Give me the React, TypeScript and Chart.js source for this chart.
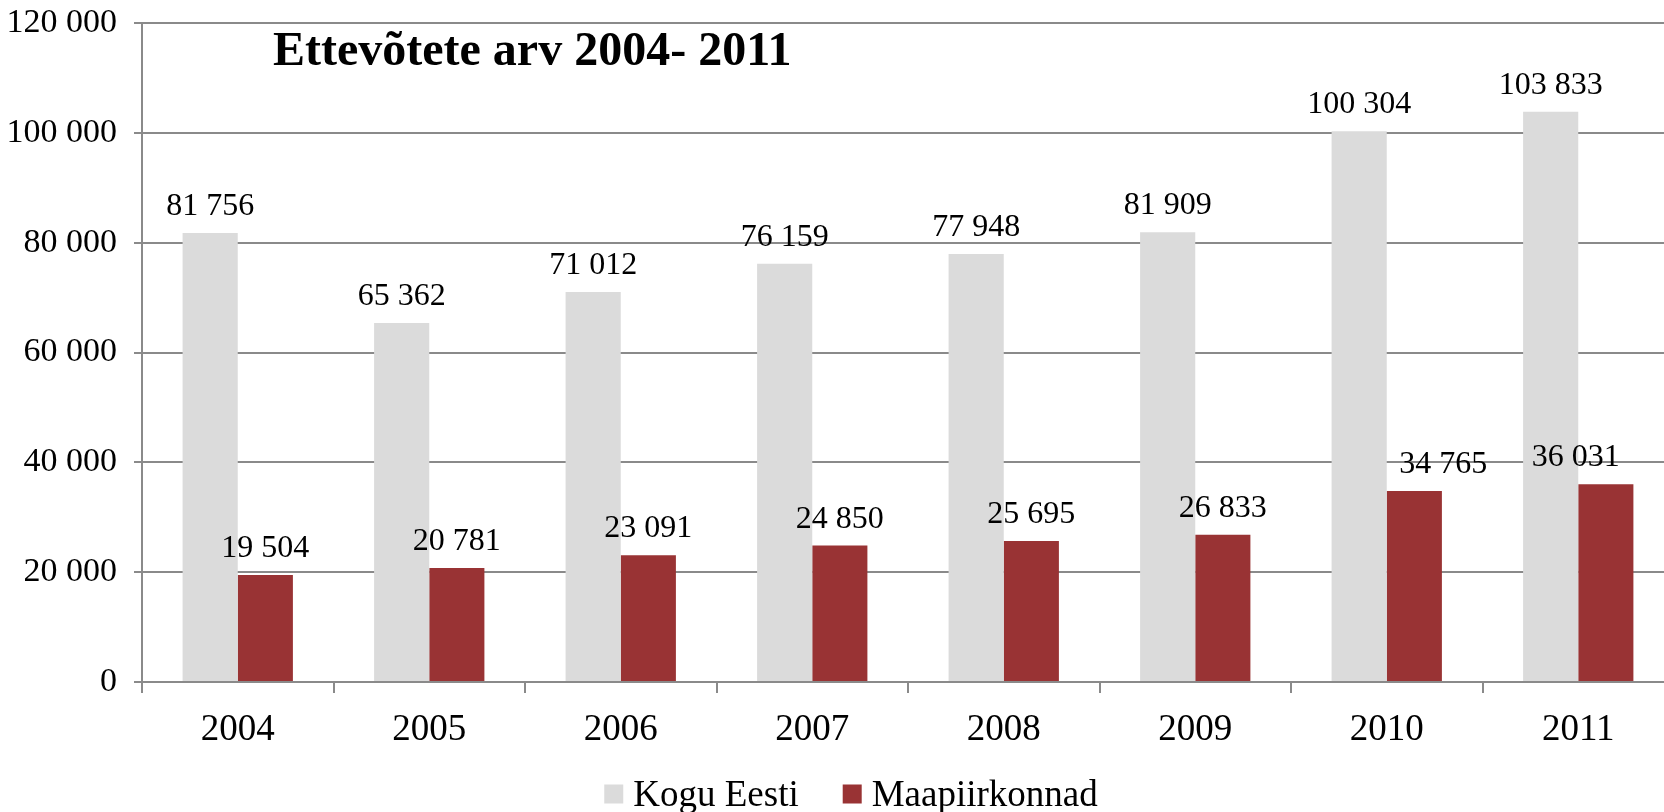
import React, { useEffect, useRef } from "react";
import { Chart, registerables } from "chart.js";

Chart.register(...registerables);

const categories = ["2004", "2005", "2006", "2007", "2008", "2009", "2010", "2011"];
const koguEesti = [81756, 65362, 71012, 76159, 77948, 81909, 100304, 103833];
const maapiirkonnad = [19504, 20781, 23091, 24850, 25695, 26833, 34765, 36031];
const seriesNames = ["Kogu Eesti", "Maapiirkonnad"];
const yMin = 0;
const yMax = 120000;
const yStep = 20000;
const chartTitle = "Ettevõtete arv 2004- 2011";

const SERIF = "'Liberation Serif', 'Times New Roman', serif";
const GRAY = "#DBDBDB";
const RED = "#993334";
const GRID = "#8a8a8a";

// the original plot runs slightly past the right edge of the picture
const VIEW_W = 1664;
const VIEW_H = 812;
const CANVAS_W = 1674;

// small horizontal nudges for a few value labels (as in the original)
const LABEL_NUDGE = [
  [0, 0, 0, 0, 0, 0, 0, 0],
  [0, 0, 0, 0, 0, 0, 29, -30],
];

const fmt = (v: number) => String(v).replace(/\B(?=(\d{3})+(?!\d))/g, " ");

const valueLabels = {
  id: "valueLabels",
  afterDatasetsDraw(chart: any) {
    const ctx = chart.ctx;
    ctx.save();
    ctx.font = `32px ${SERIF}`;
    ctx.fillStyle = "#000";
    ctx.textAlign = "center";
    ctx.textBaseline = "alphabetic";
    chart.data.datasets.forEach((ds: any, di: number) => {
      const meta = chart.getDatasetMeta(di);
      meta.data.forEach((bar: any, i: number) => {
        const nudge = (LABEL_NUDGE[di] && LABEL_NUDGE[di][i]) || 0;
        ctx.fillText(fmt(ds.data[i]), bar.x + nudge, bar.y - 18);
      });
    });
    ctx.restore();
  },
};

const titleAndLegend = {
  id: "titleAndLegend",
  afterDraw(chart: any) {
    const ctx = chart.ctx;
    const area = chart.chartArea;
    ctx.save();
    // title
    ctx.font = `bold 48px ${SERIF}`;
    ctx.fillStyle = "#000";
    ctx.textAlign = "left";
    ctx.textBaseline = "alphabetic";
    ctx.fillText(chartTitle, area.left + 131, area.top + 42);

    // legend
    ctx.font = `37px ${SERIF}`;
    const box = 19;
    const gapBoxText = 10;
    const gapItems = 44;
    const items = chart.data.datasets.map((ds: any) => ({
      label: ds.label,
      color: ds.backgroundColor,
      w: ctx.measureText(ds.label).width,
    }));
    let total = 0;
    items.forEach((it: any, i: number) => {
      total += box + gapBoxText + it.w + (i < items.length - 1 ? gapItems : 0);
    });
    const cy = chart.height - 18;
    let x = VIEW_W / 2 + 19 - total / 2;
    items.forEach((it: any) => {
      ctx.fillStyle = it.color;
      ctx.fillRect(x, cy - box / 2, box, box);
      x += box + gapBoxText;
      ctx.fillStyle = "#000";
      ctx.fillText(it.label, x, cy + 12);
      x += it.w + gapItems;
    });
    ctx.restore();
  },
};

export default function App() {
  const ref = useRef<HTMLCanvasElement | null>(null);

  useEffect(() => {
    if (!ref.current) return;
    const chart = new Chart(ref.current, {
      type: "bar",
      data: {
        labels: categories,
        datasets: [
          {
            label: seriesNames[0],
            data: koguEesti,
            backgroundColor: GRAY,
            borderWidth: 0,
            categoryPercentage: 0.576,
            barPercentage: 1,
          },
          {
            label: seriesNames[1],
            data: maapiirkonnad,
            backgroundColor: RED,
            borderWidth: 0,
            categoryPercentage: 0.576,
            barPercentage: 1,
          },
        ],
      },
      options: {
        responsive: false,
        animation: false,
        devicePixelRatio: 1,
        layout: { padding: { top: 23, left: 0, right: 0, bottom: 0 } },
        plugins: {
          legend: { display: false },
          title: { display: false },
          tooltip: { enabled: false },
        },
        scales: {
          x: {
            grid: {
              display: true,
              drawOnChartArea: false,
              drawTicks: true,
              tickLength: 11,
              color: GRID,
              lineWidth: 2,
              offset: true,
            },
            border: { display: true, color: GRID, width: 2 },
            ticks: {
              color: "#000",
              font: { family: SERIF, size: 37 },
              padding: 15,
              maxRotation: 0,
            },
            afterFit: (scale: any) => {
              scale.height = 130;
              scale.paddingLeft = 0;
              scale.paddingRight = 0;
            },
          },
          y: {
            min: yMin,
            max: yMax,
            grid: {
              color: GRID,
              lineWidth: 2,
              drawTicks: true,
              tickLength: 8,
            },
            border: { display: true, color: GRID, width: 2 },
            ticks: {
              stepSize: yStep,
              color: "#000",
              font: { family: SERIF, size: 34 },
              padding: 17,
              callback: (v: any) => fmt(Number(v)),
            },
            afterFit: (scale: any) => {
              scale.width = 142;
              scale.paddingTop = 0;
              scale.paddingBottom = 0;
            },
          },
        },
      },
      plugins: [valueLabels, titleAndLegend],
    });
    return () => chart.destroy();
  }, []);

  return (
    <div
      style={{
        position: "fixed",
        left: 0,
        top: 0,
        width: VIEW_W,
        height: VIEW_H,
        background: "#fff",
        overflow: "hidden",
      }}
    >
      <canvas
        ref={ref}
        width={CANVAS_W}
        height={VIEW_H}
        style={{ width: CANVAS_W, height: VIEW_H, display: "block" }}
      />
    </div>
  );
}
